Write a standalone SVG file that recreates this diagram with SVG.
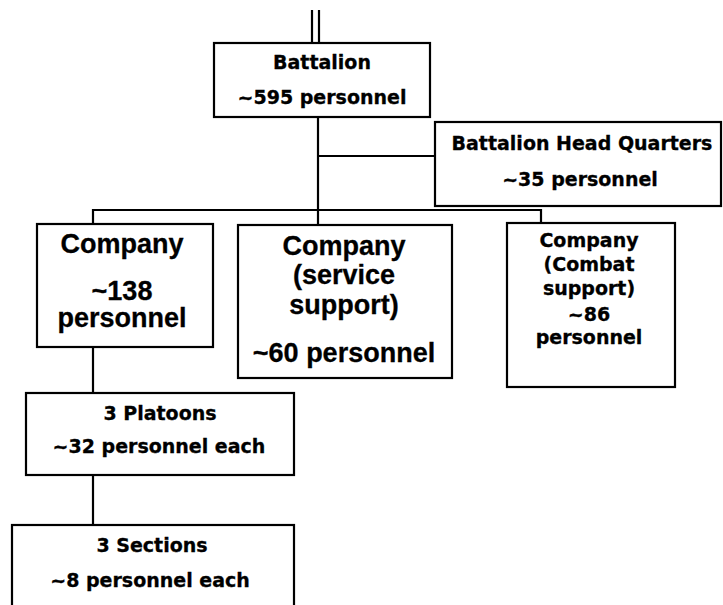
<svg xmlns="http://www.w3.org/2000/svg" width="723" height="605" viewBox="0 0 723 605">
<style>
.box{fill:#fff;stroke:#000;stroke-width:2.2}
.ln{stroke:#000;stroke-width:2.2;fill:none}
.t{font-family:"DejaVu Sans",Verdana,sans-serif;font-weight:bold;font-size:19px;fill:#000;stroke:#000;stroke-width:0.3;text-anchor:middle}
.c{font-family:"Liberation Sans",Arial,sans-serif;font-weight:bold;font-size:27px;fill:#000;stroke:#000;stroke-width:0.3;text-anchor:middle}
</style>
<rect width="723" height="605" fill="#fff"/>
<g id="connectors">
<line class="ln" x1="312" y1="10" x2="312" y2="43"/>
<line class="ln" x1="319" y1="10" x2="319" y2="43"/>
<line class="ln" x1="318" y1="117" x2="318" y2="225"/>
<line class="ln" x1="318" y1="156" x2="435" y2="156"/>
<polyline class="ln" points="93,224 93,210 541,210 541,223"/>
<line class="ln" x1="93" y1="347" x2="93" y2="393"/>
<line class="ln" x1="93" y1="475" x2="93" y2="525"/>
</g>
<g id="battalion">
<rect class="box" x="214" y="43" width="216" height="74"/>
<text class="t" x="322" y="69">Battalion</text>
<text class="t" x="322" y="104">~595 personnel</text>
</g>
<g id="hq">
<rect class="box" x="435" y="122" width="286" height="84"/>
<text class="t" x="582" y="150">Battalion Head Quarters</text>
<text class="t" x="580" y="186">~35 personnel</text>
</g>
<g id="company1">
<rect class="box" x="37" y="224" width="176" height="123"/>
<text class="c" x="122" y="253">Company</text>
<text class="c" x="122" y="300">~138</text>
<text class="c" x="122" y="327">personnel</text>
</g>
<g id="company2">
<rect class="box" x="238" y="225" width="214" height="153"/>
<text class="c" x="344" y="255">Company</text>
<text class="c" x="344" y="284">(service</text>
<text class="c" x="344" y="314">support)</text>
<text class="c" x="344" y="362">~60 personnel</text>
</g>
<g id="company3">
<rect class="box" x="507" y="223" width="168" height="164"/>
<text class="t" x="589" y="247">Company</text>
<text class="t" x="589" y="271">(Combat</text>
<text class="t" x="589" y="295">support)</text>
<text class="t" x="589" y="321">~86</text>
<text class="t" x="589" y="344">personnel</text>
</g>
<g id="platoons">
<rect class="box" x="26" y="393" width="268" height="82"/>
<text class="t" x="160" y="420">3 Platoons</text>
<text class="t" x="159" y="453">~32 personnel each</text>
</g>
<g id="sections">
<rect class="box" x="12" y="525" width="282" height="90"/>
<text class="t" x="152" y="552">3 Sections</text>
<text class="t" x="150" y="587">~8 personnel each</text>
</g>
</svg>
